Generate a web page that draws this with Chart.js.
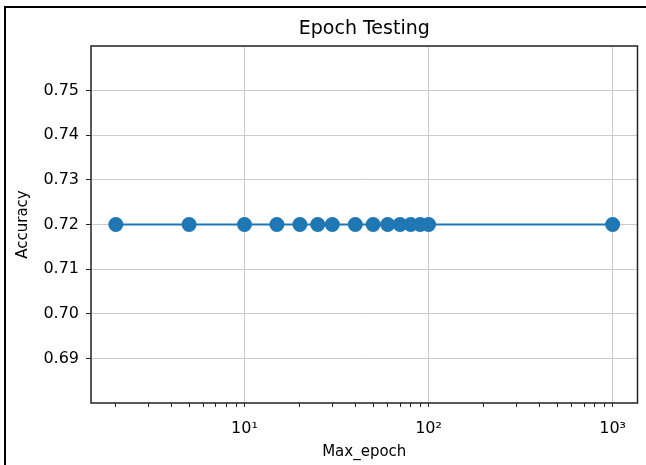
<!DOCTYPE html>
<html>
<head>
<meta charset="utf-8">
<script src="https://cdn.jsdelivr.net/npm/chart.js@4/dist/chart.umd.min.js"></script>
<style>
  html, body { margin: 0; padding: 0; background: #fff; overflow: hidden; }
  #wrap { position: relative; width: 646px; height: 465px; overflow: hidden; }
  #frame { position: absolute; left: 4px; top: 6px; width: 660px; height: 470px; border: 2px solid #000; pointer-events: none; }
</style>
</head>
<body>
<div id="wrap">
  <canvas id="myChart" width="646" height="465"></canvas>
  <div id="frame"></div>
</div>
<script>
// data
var maxEpoch = [2, 5, 10, 15, 20, 25, 30, 40, 50, 60, 70, 80, 90, 100, 1000];
var accuracy = [0.72, 0.72, 0.72, 0.72, 0.72, 0.72, 0.72, 0.72, 0.72, 0.72, 0.72, 0.72, 0.72, 0.72, 0.72];
var yTicks = [0.69, 0.70, 0.71, 0.72, 0.73, 0.74, 0.75];
var xTicks = [2, 3, 4, 5, 6, 7, 8, 9, 10, 20, 30, 40, 50, 60, 70, 80, 90, 100, 200, 300, 400, 500, 600, 700, 800, 900, 1000];
var xMajor = {10: "10\u00B9", 100: "10\u00B2", 1000: "10\u00B3"};
var chartTitle = "Epoch Testing";

var font = "'DejaVu Sans', sans-serif";

var points = [];
for (var i = 0; i < maxEpoch.length; i++) {
  points.push({x: maxEpoch[i], y: accuracy[i]});
}

// box round the plot area (like the matplotlib spines) and title centred over it
var frameBox = {
  id: "frameBox",
  afterDraw: function(chart) {
    var a = chart.chartArea, ctx = chart.ctx;
    ctx.save();
    ctx.strokeStyle = "#222";
    ctx.lineWidth = 1.5;
    ctx.strokeRect(a.left, a.top, a.right - a.left, a.bottom - a.top);
    ctx.fillStyle = "#000";
    ctx.font = "19px " + font;
    ctx.textAlign = "center";
    ctx.textBaseline = "middle";
    ctx.fillText(chartTitle, (a.left + a.right) / 2, 29);
    ctx.restore();
  }
};

new Chart("myChart", {
  type: "line",
  data: {
    datasets: [{
      data: points,
      borderColor: "#1f77b4",
      backgroundColor: "#1f77b4",
      borderWidth: 2,
      pointRadius: 6.5,
      pointHoverRadius: 6.5,
      fill: false
    }]
  },
  options: {
    responsive: false,
    animation: false,
    layout: { padding: { left: 0, right: 7, top: 46, bottom: 0 } },
    plugins: {
      legend: { display: false },
      tooltip: { enabled: false },
      title: { display: false }
    },
    scales: {
      x: {
        type: "logarithmic",
        min: 1.466,
        max: 1365,
        afterBuildTicks: function(scale) {
          scale.ticks = xTicks.map(function(v) { return {value: v, major: !!xMajor[v]}; });
        },
        afterFit: function(scale) { scale.height = 62; },
        grid: {
          color: function(c) { return c.tick && xMajor[c.tick.value] ? "#cccccc" : "rgba(0,0,0,0)"; },
          tickColor: "#222",
          tickLength: 4,
          lineWidth: 1,
          drawTicks: true
        },
        border: { display: false },
        ticks: {
          autoSkip: false,
          maxRotation: 0,
          color: "#000",
          font: { family: font, size: 16 },
          padding: 12,
          callback: function(v) { return xMajor[v] || ""; }
        },
        title: {
          display: true,
          text: "Max_epoch",
          color: "#000",
          font: { family: font, size: 15 },
          padding: { top: 0, bottom: 4 }
        }
      },
      y: {
        min: 0.68,
        max: 0.76,
        afterBuildTicks: function(scale) {
          scale.ticks = yTicks.map(function(v) { return {value: v}; });
        },
        afterFit: function(scale) { scale.width = 91; },
        grid: {
          color: "#cccccc",
          tickColor: "#222",
          tickLength: 5,
          lineWidth: 1
        },
        border: { display: false },
        ticks: {
          color: "#000",
          font: { family: font, size: 16 },
          padding: 7,
          callback: function(v) { return v.toFixed(2); }
        },
        title: {
          display: true,
          text: "Accuracy",
          color: "#000",
          font: { family: font, size: 15 },
          padding: { top: 14, bottom: 0 }
        }
      }
    }
  },
  plugins: [frameBox]
});
</script>
</body>
</html>
